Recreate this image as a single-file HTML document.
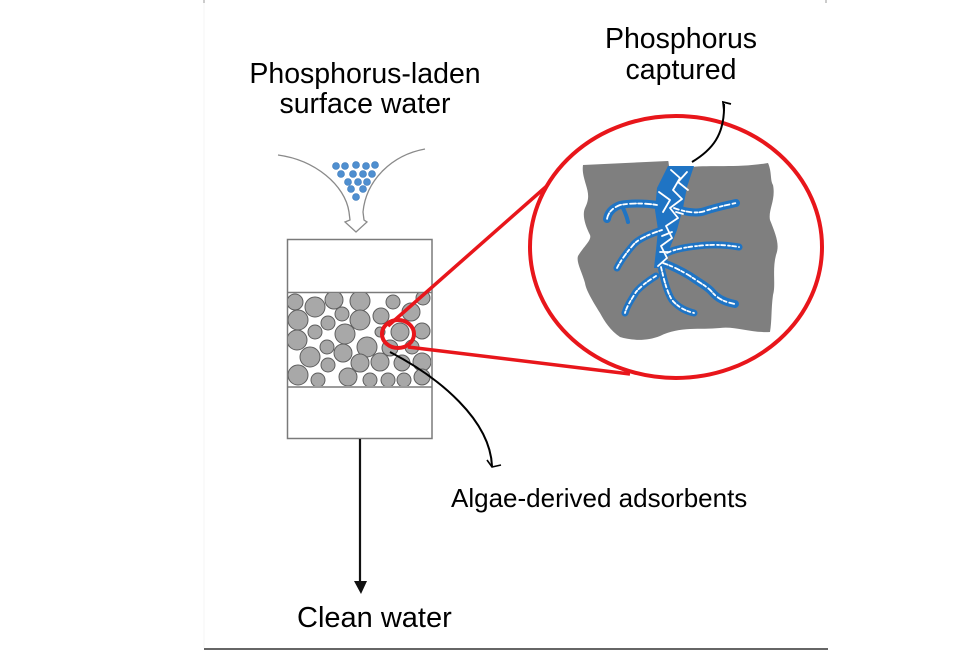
<!DOCTYPE html>
<html>
<head>
<meta charset="utf-8">
<style>
  html,body{margin:0;padding:0;background:#fff;}
  svg{display:block;}
  text{font-family:"Liberation Sans", Arial, sans-serif; fill:#000;}
</style>
</head>
<body>
<svg width="975" height="650" viewBox="0 0 975 650" xmlns="http://www.w3.org/2000/svg">
  <defs>
    <clipPath id="bed">
      <rect x="288" y="293" width="143" height="93"/>
    </clipPath>
  </defs>

  <!-- frame hints -->
  <line x1="204" y1="0" x2="204" y2="648" stroke="#f6f6f6" stroke-width="1"/>
  <line x1="204" y1="649" x2="828" y2="649" stroke="#333" stroke-width="1.5"/>
  <line x1="204" y1="0" x2="204" y2="3" stroke="#999" stroke-width="1"/>
  <line x1="826" y1="0" x2="826" y2="3" stroke="#999" stroke-width="1"/>

  <!-- labels -->
  <text x="365" y="83" font-size="28.5" text-anchor="middle">Phosphorus-laden</text>
  <text x="365" y="113" font-size="28.5" text-anchor="middle">surface water</text>
  <text x="681" y="48" font-size="28.5" text-anchor="middle">Phosphorus</text>
  <text x="681" y="79" font-size="28.5" text-anchor="middle">captured</text>
  <text x="451" y="507" font-size="26">Algae-derived adsorbents</text>
  <text x="297" y="627" font-size="29">Clean water</text>

  <!-- funnel -->
  <path d="M278,155 C315,160 345,185 349,212 L350,220 L345,222 L356,232 L367,222 L364,220 L363,212 C366,180 392,155 425,149"
        fill="none" stroke="#8a8a8a" stroke-width="1.3"/>
  <g fill="#4f8fd0" stroke="#3b78b8" stroke-width="0.6">
    <circle cx="336" cy="166" r="3.5"/><circle cx="345" cy="166" r="3.5"/><circle cx="356" cy="165" r="3.5"/><circle cx="366" cy="166" r="3.5"/><circle cx="375" cy="165" r="3.5"/>
    <circle cx="341" cy="174" r="3.5"/><circle cx="353" cy="174" r="3.5"/><circle cx="363" cy="174" r="3.5"/><circle cx="372" cy="174" r="3.5"/>
    <circle cx="348" cy="182" r="3.5"/><circle cx="358" cy="182" r="3.5"/><circle cx="367" cy="182" r="3.5"/>
    <circle cx="351" cy="189" r="3.5"/><circle cx="363" cy="189" r="3.5"/>
    <circle cx="356" cy="197" r="3.5"/>
  </g>

  <!-- column -->
  <rect x="287.5" y="239.5" width="144.5" height="199" fill="#fff" stroke="#7a7a7a" stroke-width="1.5"/>
  <line x1="287.5" y1="292.5" x2="432" y2="292.5" stroke="#7a7a7a" stroke-width="1.5"/>
  <line x1="287.5" y1="387" x2="432" y2="387" stroke="#7a7a7a" stroke-width="1.5"/>

  <g clip-path="url(#bed)" fill="#a8a8a8" stroke="#5e5e5e" stroke-width="1">
    <circle cx="295" cy="302" r="8"/>
    <circle cx="315" cy="307" r="10"/>
    <circle cx="334" cy="300" r="9"/>
    <circle cx="360" cy="301" r="10"/>
    <circle cx="393" cy="302" r="7"/>
    <circle cx="423" cy="298" r="7"/>
    <circle cx="342" cy="314" r="7"/>
    <circle cx="298" cy="320" r="10"/>
    <circle cx="328" cy="323" r="7"/>
    <circle cx="360" cy="320" r="10"/>
    <circle cx="381" cy="316" r="8"/>
    <circle cx="411" cy="312" r="9"/>
    <circle cx="315" cy="332" r="7"/>
    <circle cx="345" cy="334" r="10"/>
    <circle cx="297" cy="340" r="10"/>
    <circle cx="380" cy="332" r="5"/>
    <circle cx="400" cy="332" r="9"/>
    <circle cx="422" cy="331" r="8"/>
    <circle cx="327" cy="347" r="7"/>
    <circle cx="367" cy="347" r="10"/>
    <circle cx="390" cy="348" r="8"/>
    <circle cx="412" cy="347" r="7"/>
    <circle cx="310" cy="357" r="10"/>
    <circle cx="343" cy="353" r="9"/>
    <circle cx="360" cy="363" r="9"/>
    <circle cx="380" cy="362" r="9"/>
    <circle cx="402" cy="363" r="8"/>
    <circle cx="422" cy="362" r="9"/>
    <circle cx="328" cy="365" r="7"/>
    <circle cx="298" cy="375" r="10"/>
    <circle cx="318" cy="380" r="7"/>
    <circle cx="348" cy="377" r="9"/>
    <circle cx="370" cy="380" r="7"/>
    <circle cx="388" cy="380" r="7"/>
    <circle cx="404" cy="380" r="7"/>
    <circle cx="422" cy="377" r="8"/>
  </g>

  <!-- outlet arrow -->
  <line x1="360" y1="439" x2="360" y2="583" stroke="#111" stroke-width="2.2"/>
  <polygon points="354,581 367,581 361,594" fill="#111"/>

  <!-- pointer to adsorbents -->
  <path d="M390,352 C440,378 490,420 492,466" fill="none" stroke="#000" stroke-width="2"/>
  <polyline points="487,460 492,467 501,465" fill="none" stroke="#000" stroke-width="1.6"/>

  <!-- red zoom lines -->
  <line x1="388" y1="326" x2="557" y2="177" stroke="#e8161b" stroke-width="3.5"/>
  <line x1="408" y1="347" x2="630" y2="374" stroke="#e8161b" stroke-width="3.5"/>
  <ellipse cx="398" cy="334" rx="16" ry="14" fill="none" stroke="#e8161b" stroke-width="4"/>

  <!-- big circle -->
  <ellipse cx="676" cy="247" rx="146" ry="131" fill="#fff" stroke="#e8161b" stroke-width="4"/>

  <!-- grey particle -->
  <path d="M583,165 L668,161 L680,167 L692,167 C710,165 740,168 768,163 C772,172 770,180 773,185 C776,200 768,210 770,220 C776,235 780,245 776,255 C772,270 776,285 773,295 C771,310 772,320 770,332 C750,333 735,326 720,328 C700,330 680,326 660,336 C645,342 630,340 620,337 C610,330 605,322 600,313 C592,300 586,290 585,283 C582,272 576,262 578,256 C584,246 592,240 590,235 C585,225 582,215 585,208 C590,198 588,192 586,185 C584,178 582,172 583,165 Z"
        fill="#7f7f7f"/>
  <!-- crack opening at top -->
  <polygon points="668,158 694,158 692,166 669,166" fill="#fff"/>

  <!-- veins -->
  <g fill="none" stroke="#1f74c4" stroke-linecap="round" stroke-linejoin="round">
    <path d="M657,205 C645,203 630,203 620,205 C612,208 608,213 607,219" stroke-width="8"/>
    <path d="M622,206 C625,212 627,217 628,222" stroke-width="4"/>
    <path d="M674,208 C685,212 697,214 705,211 C717,207 727,205 736,203" stroke-width="8"/>
    <path d="M662,230 C650,234 640,238 634,244 C627,252 621,260 617,268" stroke-width="7"/>
    <path d="M667,253 C675,249 687,247 697,246 C712,244 727,245 739,247" stroke-width="7"/>
    <path d="M663,263 C672,266 680,270 690,276 C700,283 708,287 712,292 C717,298 724,302 735,304" stroke-width="8"/>
    <path d="M656,276 C648,281 641,286 636,292 C631,300 627,306 625,313" stroke-width="7"/>
    <path d="M661,267 C664,280 667,292 672,300 C679,308 686,311 694,313" stroke-width="7"/>
  </g>
  <polygon points="668,166 694,166 687,187 683,208 677,230 669,250 666,268 654,268 656,250 658,230 655,210 657,188" fill="#1f74c4"/>
  <g fill="none" stroke="#fff" stroke-linecap="round" stroke-linejoin="round" stroke-width="1.8">
    <path d="M671,170 L680,178 L673,190 L682,199 L670,208 L678,218 L666,226 L672,238 L661,246 L667,258 L658,266"/>
    <path d="M687,172 L678,182 L688,190 M659,192 L670,200 L663,212 M672,232 L662,236 M676,212 L683,214 M660,252 L668,252"/>
    <path d="M657,205 C645,203 630,203 620,205 C612,208 608,213 607,219" stroke-dasharray="4 2 6 3"/>
    <path d="M674,208 C685,212 697,214 705,211 C717,207 727,205 736,203" stroke-dasharray="5 3 3 2"/>
    <path d="M662,230 C650,234 640,238 634,244 C627,252 621,260 617,268" stroke-dasharray="3 2 5 3"/>
    <path d="M667,253 C675,249 687,247 697,246 C712,244 727,245 739,247" stroke-dasharray="4 3 2 2"/>
    <path d="M663,263 C672,266 680,270 690,276 C700,283 708,287 712,292 C717,298 724,302 735,304" stroke-dasharray="5 2 3 3"/>
    <path d="M656,276 C648,281 641,286 636,292 C631,300 627,306 625,313" stroke-dasharray="3 3 4 2"/>
    <path d="M661,267 C664,280 667,292 672,300 C679,308 686,311 694,313" stroke-dasharray="4 2 3 3"/>
  </g>

  <!-- pointer to captured -->
  <path d="M692,162 C712,150 725,135 724,104" fill="none" stroke="#000" stroke-width="2"/>
  <polyline points="731,104 723,102 724,111" fill="none" stroke="#000" stroke-width="1.8"/>
</svg>
</body>
</html>
